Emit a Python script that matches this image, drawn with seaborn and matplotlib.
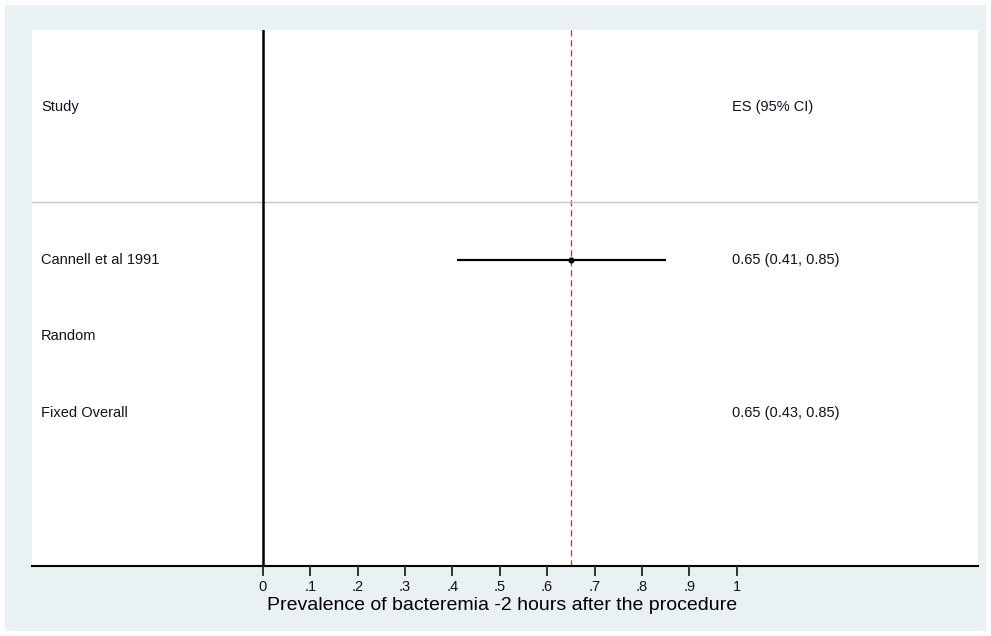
import matplotlib.pyplot as plt
import numpy as np
import pandas as pd
import seaborn as sns

# data
study_names = ["Cannell et al 1991"]
es = [0.65]
ci_low = [0.41]
ci_high = [0.85]
row_labels = ["Cannell et al 1991", "Random", "Fixed Overall"]
row_es_text = ["0.65 (0.41, 0.85)", "", "0.65 (0.43, 0.85)"]
pooled_es = 0.65
xticks = [0, .1, .2, .3, .4, .5, .6, .7, .8, .9, 1]
xtick_labels = ["0", ".1", ".2", ".3", ".4", ".5", ".6", ".7", ".8", ".9", "1"]

sns.set_style("ticks")
plt.rcParams['font.family'] = ['Liberation Sans', 'DejaVu Sans']

fig = plt.figure(figsize=(9.91, 6.36), dpi=100)
# light panel with a thin white border
fig.patch.set_facecolor('#eaf1f3')
fig.patch.set_edgecolor('white')
fig.patch.set_linewidth(6)
ax = fig.add_axes([32 / 991, 70 / 636, 946 / 991, 536 / 636])
ax.set_facecolor('white')

df = pd.DataFrame({"study": study_names, "es": es, "lo": ci_low, "hi": ci_high})
df["row"] = np.arange(len(df))

txt_color = '#111122'
fs = 10.5
xmin, xmax = -0.487, 1.509

# pooled estimate line
ax.axvline(pooled_es, color='#b8393c', lw=0.9, ls=(0, (5, 3)), zorder=1)
# null line
ax.axvline(0, color='black', lw=1.8, zorder=2)
# header separator
ax.axhline(-0.75, color='#c4c4c4', lw=1.0, zorder=1)

# CI and point
ax.hlines(df["row"], df["lo"], df["hi"], color='black', lw=1.6, zorder=3)
sns.scatterplot(data=df, x="es", y="row", ax=ax, color='black', s=16,
                edgecolor='black', zorder=4, legend=False)

# text columns
ax.text(-0.468, -2, "Study", fontsize=fs, va='center', ha='left', color=txt_color)
ax.text(0.99, -2, "ES (95% CI)", fontsize=fs, va='center', ha='left', color=txt_color)
for i, (lab, txt) in enumerate(zip(row_labels, row_es_text)):
    ax.text(-0.468, i, lab, fontsize=fs, va='center', ha='left', color=txt_color)
    if txt:
        ax.text(0.99, i, txt, fontsize=fs, va='center', ha='left', color=txt_color)

ax.set_xlim(xmin, xmax)
ax.set_ylim(4, -3)
ax.set_yticks([])
ax.set_xticks(xticks)
ax.set_xticklabels(xtick_labels, fontsize=fs, color=txt_color)
ax.tick_params(axis='x', which='major', direction='out', length=7, width=1.3,
               color='#333333', bottom=True, labelbottom=True, pad=3)
ax.set_xlabel("Prevalence of bacteremia -2 hours after the procedure", fontsize=14,
              color='black')
ax.xaxis.label.set_va('center')
ax.xaxis.set_label_coords((0.505 + 0.487) / 1.996, -39 / 536)

for side in ['top', 'left', 'right']:
    ax.spines[side].set_visible(False)
ax.spines['bottom'].set_color('black')
ax.spines['bottom'].set_linewidth(1.5)
ax.set_ylabel("")

# thin strip under the axis line that carries the tick marks
tick_ax = fig.add_axes([32 / 991, 61 / 636, 946 / 991, 9 / 636], zorder=10)
tick_ax.set_xlim(xmin, xmax)
tick_ax.set_ylim(0, 1)
tick_ax.vlines(xticks, 0, 1, color='#333333', lw=1.3)
tick_ax.patch.set_alpha(0)
for side in tick_ax.spines:
    tick_ax.spines[side].set_visible(False)
tick_ax.set_xticks([])
tick_ax.set_yticks([])

fig.savefig('out.png', dpi=100, facecolor=fig.get_facecolor(),
            edgecolor=fig.patch.get_edgecolor())
